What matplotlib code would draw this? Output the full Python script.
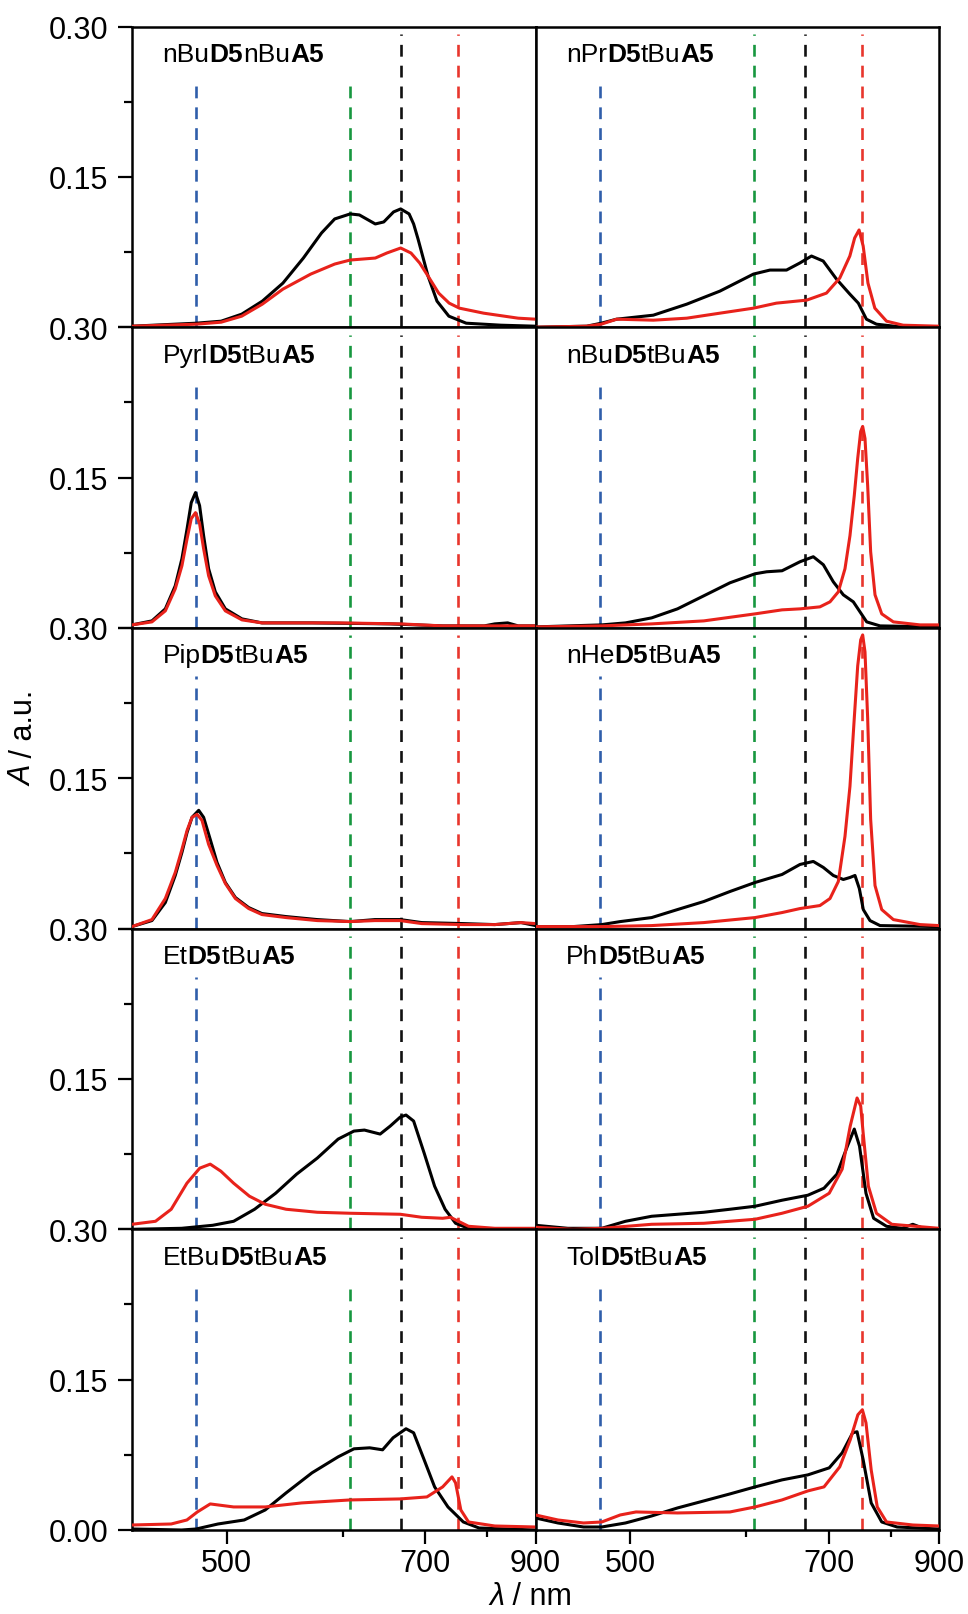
import matplotlib
matplotlib.use("Agg")
import numpy as np
import matplotlib.pyplot as plt
from matplotlib.ticker import FixedLocator, FixedFormatter

plt.rcParams['font.family'] = ['Liberation Sans', 'DejaVu Sans']
plt.rcParams['lines.scale_dashes'] = False

# ---------------- spectra (wavelength in nm, absorbance) ----------------
# row 1, left: nBuD5nBuA5
nbu_nbu_wl_k = [440, 479, 496, 511, 527, 544, 562, 579, 592, 608, 618, 636, 646, 658, 667, 678, 684, 690, 704, 717, 735, 763, 826, 900]
nbu_nbu_a_k = [0.001, 0.004, 0.006, 0.013, 0.026, 0.044, 0.069, 0.094, 0.108, 0.113, 0.112, 0.103, 0.105, 0.115, 0.118, 0.113, 0.103, 0.088, 0.051, 0.026, 0.011, 0.004, 0.002, 0.001]
nbu_nbu_wl_r = [440, 479, 496, 511, 527, 544, 568.8, 592, 608, 636, 649.7, 667, 680.5, 692.3, 704, 719.5, 735.5, 751.8, 793.4, 861.3, 900]
nbu_nbu_a_r = [0.001, 0.003, 0.005, 0.011, 0.023, 0.038, 0.053, 0.063, 0.067, 0.069, 0.074, 0.079, 0.074, 0.064, 0.051, 0.034, 0.024, 0.019, 0.014, 0.009, 0.008]

# row 1, right: nPrD5tBuA5
npr_wl_k = [440, 470.5, 480, 490.4, 517.2, 544.3, 574.1, 607.8, 625.9, 645.1, 661.4, 676.5, 692.3, 711.1, 731.1, 744.4, 757.5, 774.5, 823.4, 900]
npr_a_k = [0.000, 0.001, 0.004, 0.008, 0.012, 0.023, 0.036, 0.053, 0.057, 0.057, 0.064, 0.071, 0.066, 0.048, 0.033, 0.024, 0.008, 0.003, 0.000, 0.000]
npr_wl_r = [440, 470.5, 480, 490.4, 517.2, 544.3, 574.1, 607.8, 633.2, 670.2, 696.8, 715.9, 731.1, 738.6, 745.6, 752.2, 760.1, 771.7, 792.3, 823.4, 900]
npr_a_r = [0.000, 0.001, 0.003, 0.008, 0.007, 0.009, 0.014, 0.019, 0.024, 0.027, 0.034, 0.049, 0.071, 0.089, 0.097, 0.081, 0.044, 0.019, 0.006, 0.002, 0.001]

# row 2, left: PyrlD5tBuA5
pyrl_wl_k = [440, 451.4, 459.4, 465.5, 469.7, 473.0, 475.7, 478.5, 481.2, 483.9, 487.3, 491.9, 499.0, 511.2, 526.7, 569.9, 653.9, 725.5, 794.5, 814.1, 839.5, 861.3, 900]
pyrl_a_k = [0.003, 0.007, 0.019, 0.042, 0.069, 0.099, 0.125, 0.135, 0.122, 0.092, 0.059, 0.036, 0.019, 0.009, 0.005, 0.005, 0.004, 0.002, 0.002, 0.004, 0.005, 0.002, 0.002]
pyrl_wl_r = [440, 451.4, 459.4, 465.5, 469.7, 473.0, 475.7, 478.5, 481.2, 483.9, 487.3, 491.9, 499.0, 511.2, 526.7, 595.5, 667, 725.5, 900]
pyrl_a_r = [0.003, 0.006, 0.017, 0.039, 0.062, 0.089, 0.109, 0.115, 0.104, 0.079, 0.052, 0.032, 0.017, 0.008, 0.005, 0.005, 0.004, 0.002, 0.002]

# row 2, right: nBuD5tBuA5
nbu_wl_k = [440, 480.3, 496.6, 515.9, 536.5, 559.2, 583.8, 609.5, 622.2, 639.8, 661.7, 678.9, 692.5, 706.5, 721.2, 736.5, 747.1, 758.0, 780.7, 900]
nbu_a_k = [0.001, 0.003, 0.005, 0.010, 0.019, 0.032, 0.045, 0.054, 0.056, 0.057, 0.066, 0.071, 0.063, 0.046, 0.033, 0.026, 0.016, 0.006, 0.002, 0.001]
nbu_wl_r = [440, 480.3, 515.9, 559.2, 609.5, 639.8, 661.7, 687.8, 701.8, 713.8, 723.7, 731.3, 738.0, 743.4, 748.2, 751.4, 755.2, 759.6, 764.6, 772.0, 783.7, 804.8, 857.8, 900]
nbu_a_r = [0.001, 0.002, 0.004, 0.007, 0.014, 0.018, 0.019, 0.021, 0.026, 0.036, 0.059, 0.092, 0.132, 0.169, 0.196, 0.201, 0.189, 0.142, 0.076, 0.033, 0.014, 0.006, 0.003, 0.003]

# row 3, left: PipD5tBuA5
pip_wl_k = [440, 451.4, 459.4, 465.5, 469.7, 473.0, 476.2, 480.6, 483.9, 488.4, 493.1, 499.0, 506.3, 516.3, 526.7, 546.7, 574.9, 608.2, 635.6, 666.5, 695.1, 758.2, 814.1, 867.4, 900]
pip_a_k = [0.002, 0.008, 0.026, 0.053, 0.076, 0.096, 0.111, 0.118, 0.111, 0.089, 0.066, 0.046, 0.031, 0.021, 0.015, 0.012, 0.009, 0.007, 0.009, 0.009, 0.006, 0.005, 0.004, 0.006, 0.003]
pip_wl_r = [440, 451.4, 459.4, 465.5, 469.7, 473.0, 476.2, 479.5, 482.8, 487.3, 493.1, 499.0, 506.3, 516.3, 526.7, 546.7, 574.9, 608.2, 635.6, 666.5, 695.1, 758.2, 814.1, 867.4, 900]
pip_a_r = [0.002, 0.009, 0.030, 0.056, 0.079, 0.098, 0.111, 0.114, 0.108, 0.084, 0.063, 0.045, 0.030, 0.020, 0.014, 0.011, 0.008, 0.007, 0.008, 0.008, 0.005, 0.004, 0.004, 0.006, 0.005]

# row 3, right: nHeD5tBuA5
nhe_wl_k = [440, 462.0, 480.3, 492.9, 515.9, 536.5, 559.2, 583.8, 609.5, 639.8, 661.7, 678.9, 692.5, 706.5, 721.2, 731.3, 739.1, 746.0, 752.4, 763.5, 780.7, 900]
nhe_a_k = [0.002, 0.002, 0.004, 0.007, 0.011, 0.019, 0.027, 0.037, 0.046, 0.054, 0.064, 0.067, 0.061, 0.053, 0.049, 0.051, 0.053, 0.040, 0.019, 0.008, 0.003, 0.002]
nhe_wl_r = [440, 480.3, 515.9, 559.2, 609.5, 639.8, 661.7, 687.8, 701.8, 713.8, 723.7, 731.3, 738.0, 743.4, 748.2, 751.4, 755.2, 759.6, 764.6, 772.0, 783.7, 804.8, 857.8, 900]
nhe_a_r = [0.002, 0.002, 0.003, 0.006, 0.011, 0.016, 0.020, 0.023, 0.030, 0.047, 0.092, 0.142, 0.210, 0.262, 0.288, 0.293, 0.276, 0.210, 0.109, 0.043, 0.019, 0.009, 0.004, 0.003]

# row 4, left: EtD5tBuA5
et_wl_k = [440, 469.5, 490.1, 505.0, 520.9, 537.9, 555.9, 574.9, 595.5, 612.1, 623.6, 641.7, 653.9, 666.5, 673.9, 684.0, 698.5, 713.5, 729.2, 745.6, 766.9, 900]
et_a_k = [0.000, 0.001, 0.004, 0.008, 0.020, 0.036, 0.055, 0.071, 0.090, 0.098, 0.099, 0.095, 0.103, 0.112, 0.114, 0.108, 0.076, 0.043, 0.020, 0.006, 0.001, 0.000]
et_wl_r = [440, 453.5, 463.0, 472.9, 481.3, 488.4, 495.8, 505.0, 516.9, 529.3, 546.7, 574.9, 608.2, 666.5, 695.1, 725.5, 737.4, 750.2, 766.9, 814.1, 900]
et_a_r = [0.005, 0.008, 0.020, 0.046, 0.061, 0.065, 0.058, 0.046, 0.033, 0.025, 0.020, 0.017, 0.016, 0.015, 0.012, 0.011, 0.012, 0.008, 0.003, 0.001, 0.001]

# row 4, right: PhD5tBuA5
ph_wl_k = [440, 458.8, 480.3, 496.6, 515.9, 536.5, 559.2, 583.8, 609.5, 639.8, 671.8, 693.4, 711.7, 727.4, 738.0, 746.3, 756.8, 769.6, 792.3, 821.8, 842.7, 864.8, 900]
ph_a_k = [0.004, 0.001, 0.001, 0.008, 0.013, 0.015, 0.017, 0.020, 0.023, 0.029, 0.034, 0.041, 0.055, 0.083, 0.100, 0.083, 0.036, 0.011, 0.003, 0.001, 0.005, 0.001, 0.000]
ph_wl_r = [440, 462.0, 480.3, 515.9, 559.2, 609.5, 639.8, 671.8, 700.7, 719.5, 731.7, 742.4, 748.2, 752.2, 760.8, 774.5, 801.9, 900]
ph_a_r = [0.002, 0.000, 0.001, 0.005, 0.006, 0.010, 0.016, 0.023, 0.036, 0.060, 0.103, 0.131, 0.123, 0.096, 0.043, 0.016, 0.005, 0.001]

# row 5, left: EtBuD5tBuA5
etbu_wl_k = [440, 469.5, 478.9, 493.8, 512.9, 529.3, 546.7, 569.9, 595.5, 612.1, 629.5, 644.6, 657.4, 673.9, 684.0, 698.5, 713.5, 733.6, 758.2, 785.1, 900]
etbu_a_k = [0.001, 0.000, 0.001, 0.006, 0.010, 0.020, 0.037, 0.057, 0.073, 0.081, 0.082, 0.080, 0.092, 0.101, 0.097, 0.070, 0.043, 0.023, 0.008, 0.002, 0.000]
etbu_wl_r = [440, 463.0, 472.9, 479.7, 488.4, 505.0, 529.3, 560.3, 608.2, 666.5, 702.4, 725.5, 739.9, 745.6, 754.1, 766.9, 814.1, 900]
etbu_a_r = [0.005, 0.006, 0.010, 0.018, 0.026, 0.023, 0.023, 0.027, 0.030, 0.031, 0.033, 0.043, 0.053, 0.047, 0.020, 0.008, 0.004, 0.003]

# row 5, right: TolD5tBuA5
tol_wl_k = [440, 452.9, 468.5, 480.3, 496.6, 515.9, 536.5, 559.2, 583.8, 609.5, 639.8, 671.8, 700.7, 719.5, 735.5, 742.4, 752.2, 765.5, 783.7, 811.8, 900]
tol_a_k = [0.012, 0.007, 0.003, 0.003, 0.007, 0.014, 0.022, 0.029, 0.036, 0.043, 0.050, 0.055, 0.062, 0.077, 0.097, 0.098, 0.070, 0.027, 0.008, 0.003, 0.001]
tol_wl_r = [440, 452.9, 468.5, 480.3, 492.9, 504.2, 536.5, 583.8, 609.5, 639.8, 671.8, 693.4, 715.9, 731.7, 743.7, 750.9, 756.8, 765.5, 775.9, 792.3, 842.7, 900]
tol_a_r = [0.015, 0.010, 0.007, 0.008, 0.015, 0.018, 0.017, 0.018, 0.023, 0.030, 0.039, 0.043, 0.063, 0.090, 0.115, 0.120, 0.107, 0.060, 0.023, 0.008, 0.005, 0.004]

# panel titles as (text, bold?) pieces
titles = [
    [("nBu", False), ("D5", True), ("nBu", False), ("A5", True)],
    [("nPr", False), ("D5", True), ("tBu", False), ("A5", True)],
    [("Pyrl", False), ("D5", True), ("tBu", False), ("A5", True)],
    [("nBu", False), ("D5", True), ("tBu", False), ("A5", True)],
    [("Pip", False), ("D5", True), ("tBu", False), ("A5", True)],
    [("nHe", False), ("D5", True), ("tBu", False), ("A5", True)],
    [("Et", False), ("D5", True), ("tBu", False), ("A5", True)],
    [("Ph", False), ("D5", True), ("tBu", False), ("A5", True)],
    [("EtBu", False), ("D5", True), ("tBu", False), ("A5", True)],
    [("Tol", False), ("D5", True), ("tBu", False), ("A5", True)],
]
spectra = [
    (nbu_nbu_wl_k, nbu_nbu_a_k, nbu_nbu_wl_r, nbu_nbu_a_r),
    (npr_wl_k, npr_a_k, npr_wl_r, npr_a_r),
    (pyrl_wl_k, pyrl_a_k, pyrl_wl_r, pyrl_a_r),
    (nbu_wl_k, nbu_a_k, nbu_wl_r, nbu_a_r),
    (pip_wl_k, pip_a_k, pip_wl_r, pip_a_r),
    (nhe_wl_k, nhe_a_k, nhe_wl_r, nhe_a_r),
    (et_wl_k, et_a_k, et_wl_r, et_a_r),
    (ph_wl_k, ph_a_k, ph_wl_r, ph_a_r),
    (etbu_wl_k, etbu_a_k, etbu_wl_r, etbu_a_r),
    (tol_wl_k, tol_a_k, tol_wl_r, tol_a_r),
]

# reference wavelengths (dashed markers)
marker_wl = [479, 608, 668, 750]
marker_colors = ['#2f5eaa', '#17973f', '#111111', '#e8362d']
# markers shortened below the panel title
short_markers = [
    (0, 1), (0,),
    (0,), (0,),
    (0,), (0,),
    (0,), (0,),
    (0, 1), (0,),
]
short_top = [0.812, 0.822, 0.805, 0.805, 0.841, 0.841, 0.838, 0.838, 0.829, 0.829]

x_major = [500, 700, 900]
x_minor = [600, 800]
y_major = [0.0, 0.15, 0.30]
y_minor = [0.075, 0.225]

# ---------------- figure ----------------
W, H = 968, 1615
fig = plt.figure(figsize=(W / 100, H / 100), dpi=100)
fig.patch.set_facecolor('white')

left_px, right_px = 132.0, 939.0
top_px, bottom_px = 27.5, 1531.0
col_w = (right_px - left_px) / 2
row_h = (bottom_px - top_px) / 5


def to_energy(x):
    x = np.asarray(x, dtype=float)
    with np.errstate(divide='ignore', invalid='ignore'):
        return -1.0 / x


def from_energy(y):
    y = np.asarray(y, dtype=float)
    with np.errstate(divide='ignore', invalid='ignore'):
        return -1.0 / y


RED = '#e8221b'
TICK_FS = 22
TITLE_FS = 19
LW = 2.2

for idx in range(10):
    r, c = divmod(idx, 2)
    ax = fig.add_axes([(left_px + c * col_w) / W,
                       1 - (top_px + (r + 1) * row_h) / H,
                       col_w / W, row_h / H])
    ax.set_xscale('function', functions=(to_energy, from_energy))
    ax.set_xlim(440, 900)
    ax.set_ylim(0, 0.30)
    for s in ax.spines.values():
        s.set_linewidth(1.8)

    for m, (wl, col) in enumerate(zip(marker_wl, marker_colors)):
        top = short_top[idx] if m in short_markers[idx] else 0.975
        ax.axvline(wl, ymin=0, ymax=top, color=col, lw=1.9,
                   dashes=(8.5, 6.5), zorder=1)

    wk, ak, wr, ar = spectra[idx]
    ax.plot(wk, ak, color='black', lw=LW, zorder=3,
            solid_joinstyle='round', solid_capstyle='round')
    ax.plot(wr, ar, color=RED, lw=LW, zorder=4,
            solid_joinstyle='round', solid_capstyle='round')

    # x ticks
    ax.xaxis.set_major_locator(FixedLocator(x_major))
    ax.xaxis.set_minor_locator(FixedLocator(x_minor))
    ax.xaxis.set_major_formatter(FixedFormatter([str(v) for v in x_major]))
    ax.xaxis.set_minor_formatter(FixedFormatter(['', '']))
    if r == 4:
        ax.tick_params(axis='x', which='major', direction='out', length=10,
                       width=1.6, labelsize=TICK_FS, pad=3.0, top=False)
        ax.tick_params(axis='x', which='minor', direction='out', length=5,
                       width=1.6, top=False)
    else:
        ax.tick_params(axis='x', which='both', bottom=False, top=False,
                       labelbottom=False)

    # y ticks
    ax.yaxis.set_major_locator(FixedLocator(y_major))
    ax.yaxis.set_minor_locator(FixedLocator(y_minor))
    if c == 0:
        labels = ['0.00' if r == 4 else '', '0.15', '0.30']
        ax.yaxis.set_major_formatter(FixedFormatter(labels))
        ax.tick_params(axis='y', which='major', direction='out', length=10,
                       width=1.6, labelsize=TICK_FS, pad=7.0, right=False)
        ax.tick_params(axis='y', which='minor', direction='out', length=5.5,
                       width=1.6, right=False)
    else:
        ax.tick_params(axis='y', which='both', left=False, right=False,
                       labelleft=False)

    # title with bold fragments
    prev = None
    for txt, bold in titles[idx]:
        w = 'bold' if bold else 'normal'
        if prev is None:
            prev = ax.text(0.076, 0.885, txt, transform=ax.transAxes,
                           fontsize=TITLE_FS, fontweight=w, va='baseline',
                           ha='left', zorder=5)
        else:
            prev = ax.annotate(txt, xy=(1, 0), xycoords=prev,
                               fontsize=TITLE_FS, fontweight=w,
                               va='bottom', ha='left', zorder=5)

# axis titles
ya = fig.text(24 / W, 1 - 786 / H, 'A', style='italic', fontsize=TICK_FS,
              rotation=90, ha='center', va='bottom')
yb = plt.annotate(' / a.u.', xy=(0, 1), xycoords=ya, fontsize=TICK_FS,
                  rotation=90, ha='left', va='bottom', annotation_clip=False)

xa = fig.text(489 / W, 1 - 1605 / H, 'λ', style='italic', fontsize=TICK_FS,
              ha='left', va='baseline')
xb = plt.annotate(' / nm', xy=(1, 0), xycoords=xa, fontsize=TICK_FS,
                  ha='left', va='bottom', annotation_clip=False)

fig.savefig('out.png', dpi=100, facecolor='white')
